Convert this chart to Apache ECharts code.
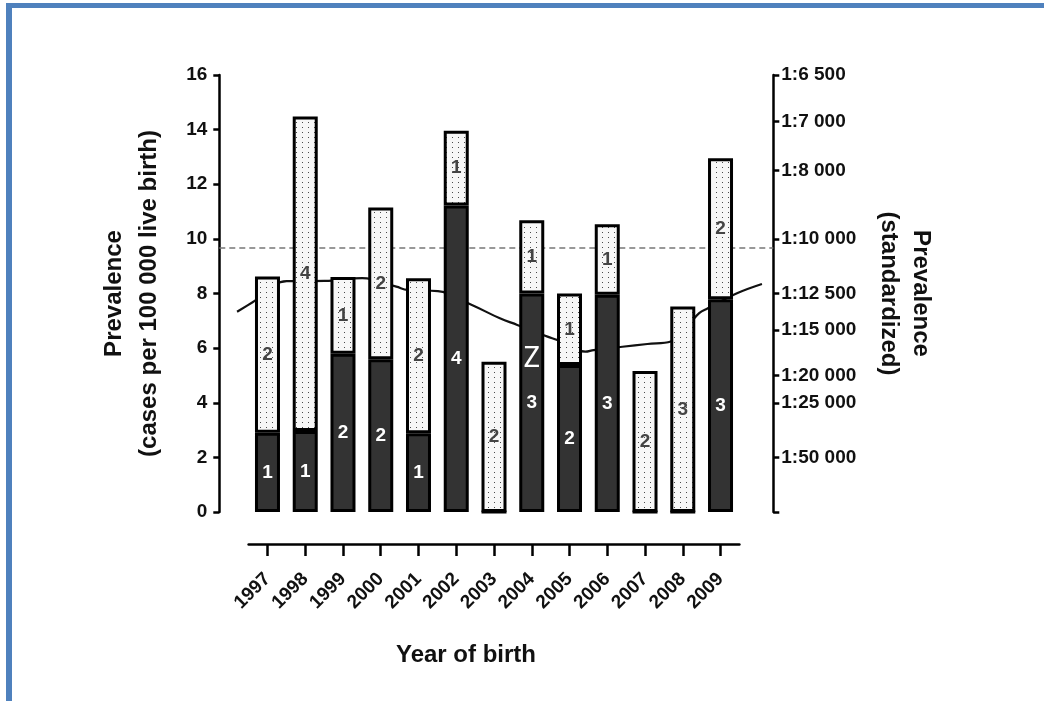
<!DOCTYPE html>
<html><head><meta charset="utf-8">
<script src="https://cdn.jsdelivr.net/npm/echarts@6/dist/echarts.min.js"></script>
<style>
html,body{margin:0;padding:0;background:#fff;}
#chart{position:absolute;left:0;top:0;width:1044px;height:701px;}
#frame{position:absolute;left:6px;top:3px;width:1038px;height:698px;border-top:5px solid #4f81bd;border-left:6px solid #4f81bd;box-sizing:border-box;pointer-events:none;}
</style></head><body>
<div id="chart"></div><div id="frame"></div>
<script>
// ---- data ----
const years = ['1997','1998','1999','2000','2001','2002','2003','2004','2005','2006','2007','2008','2009'];
const darkValues   = [2.90, 2.97, 5.79, 5.59, 2.88, 11.22, 0, 8.00, 5.38, 7.95, 0, 0, 7.79];
const dottedValues = [5.72, 11.51, 2.81, 5.56, 5.68, 2.74, 5.50, 2.68, 2.62, 2.59, 5.16, 7.52, 5.16];
const darkCounts   = ['1','1','2','2','1','4','','3','2','3','','','3'];
const dottedCounts = ['2','4','1','2','2','1','2','1','1','1','2','3','2'];
const trendX = [1996.19, 1996.6, 1997.5, 1998.5, 1999.5, 2000.4, 2000.7, 2001.5, 2002.4, 2003.14, 2003.6, 2004.4, 2004.66, 2005.4, 2005.62, 2006.38, 2007.04, 2007.66, 2008.41, 2008.64, 2009.41, 2010.07];
const trendY = [7.33, 7.68, 8.45, 8.46, 8.56, 8.25, 8.13, 8.09, 7.58, 7.09, 6.85, 6.42, 6.30, 5.87, 5.93, 6.05, 6.15, 6.24, 7.28, 7.46, 8.01, 8.35];
const thresholdValue = 9.66;
const rightTickValues = [0, 2, 4, 5, 6.67, 8, 10, 12.5, 14.29, 16];
const rightTickLabels = ['', '1:50 000', '1:25 000', '1:20 000', '1:15 000', '1:12 500', '1:10 000', '1:8 000', '1:7 000', '1:6 500'];
const noteLabel = 'Z';
const noteYear = '2004', noteValue = 5.6;

// ---- dotted pattern ----
const pat = document.createElement('canvas');
pat.width = 6; pat.height = 5;
const pc = pat.getContext('2d');
pc.fillStyle = '#f7f7f7'; pc.fillRect(0, 0, 6, 5);
pc.fillStyle = '#4a4a4a'; pc.fillRect(2, 2, 1, 1);

const FF = '"Liberation Sans", Arial, sans-serif';
const chart = echarts.init(document.getElementById('chart'));
const axisLineStyle = {color: '#000', width: 2.5};

chart.setOption({
  animation: false,
  backgroundColor: '#fff',
  textStyle: {fontFamily: FF},
  grid: [
    {left: 219.3, right: 270.7, top: 75, bottom: 189},
    {left: 248.6, right: 304.6, top: 75, bottom: 189}
  ],
  xAxis: [
    {type: 'value', gridIndex: 0, min: 1995.72, max: 2010.37, show: false},
    {type: 'category', gridIndex: 1, data: years, boundaryGap: true, offset: 32,
     axisLine: {show: true, onZero: false, lineStyle: axisLineStyle},
     axisTick: {show: true, alignWithLabel: true, length: 12, lineStyle: axisLineStyle},
     axisLabel: {rotate: 45, margin: 32, interval: 0, fontSize: 19, fontWeight: 'bold', color: '#111', fontFamily: FF},
     name: 'Year of birth', nameLocation: 'middle', nameGap: 99,
     nameTextStyle: {fontSize: 24, fontWeight: 'bold', color: '#111', fontFamily: FF, padding: [0, 56, 0, 0]}}
  ],
  yAxis: [
    {type: 'value', gridIndex: 0, min: 0, max: 16, interval: 2, position: 'left',
     splitLine: {show: false},
     axisLine: {show: true, lineStyle: axisLineStyle},
     axisTick: {show: true, length: 6, lineStyle: axisLineStyle},
     axisLabel: {margin: 12, fontSize: 19, fontWeight: 'bold', color: '#111', fontFamily: FF},
     name: 'Prevalence\n(cases per 100 000 live birth)', nameLocation: 'middle', nameGap: 52,
     nameTextStyle: {fontSize: 24, fontWeight: 'bold', color: '#111', fontFamily: FF, lineHeight: 35}},
    {type: 'value', gridIndex: 0, min: 0, max: 16, position: 'right',
     splitLine: {show: false},
     axisLine: {show: true, lineStyle: axisLineStyle},
     axisTick: {show: true, length: 6, customValues: rightTickValues, lineStyle: axisLineStyle},
     axisLabel: {customValues: rightTickValues, margin: 8, fontSize: 19, fontWeight: 'bold', color: '#111', fontFamily: FF,
       formatter: function (v) { const i = rightTickValues.indexOf(v); return i >= 0 ? rightTickLabels[i] : ''; }},
     name: 'Prevalence\n(standardized)', nameLocation: 'middle', nameRotate: -90, nameGap: 99,
     nameTextStyle: {fontSize: 24, fontWeight: 'bold', color: '#111', fontFamily: FF, lineHeight: 32}},
    {type: 'value', gridIndex: 1, min: 0, max: 16, show: false}
  ],
  series: [
    {type: 'line', xAxisIndex: 0, yAxisIndex: 1, z: 1, smooth: 0.4, symbol: 'none', silent: true,
     data: trendX.map((x, i) => [x, trendY[i]]),
     lineStyle: {color: '#111', width: 2.2},
     markLine: {silent: true, symbol: 'none', z: 1, label: {show: false},
       lineStyle: {type: [6, 4], color: '#777', width: 1.5},
       data: [{yAxis: thresholdValue}]}},
    {type: 'bar', xAxisIndex: 1, yAxisIndex: 2, stack: 'total', barWidth: 25, z: 3,
     data: darkValues,
     itemStyle: {color: '#333', borderColor: '#000', borderWidth: 3},
     label: {show: true, position: 'inside', color: '#fff', fontSize: 19, fontWeight: 'bold', fontFamily: FF,
       formatter: p => darkCounts[p.dataIndex]},
     markPoint: {symbol: 'rect', symbolSize: 0, silent: true,
       label: {show: true, position: 'inside', formatter: noteLabel, color: '#fff', fontSize: 29, fontFamily: '"Noto Sans", sans-serif'},
       data: [{coord: [noteYear, noteValue]}]}},
    {type: 'bar', xAxisIndex: 1, yAxisIndex: 2, stack: 'total', barWidth: 25, z: 3,
     data: dottedValues,
     itemStyle: {color: {image: pat, repeat: 'repeat'}, borderColor: '#000', borderWidth: 3},
     label: {show: true, position: 'inside', color: '#444', fontSize: 19, fontWeight: 'bold', fontFamily: FF,
       formatter: p => dottedCounts[p.dataIndex]}}
  ]
});
</script>
</body></html>
